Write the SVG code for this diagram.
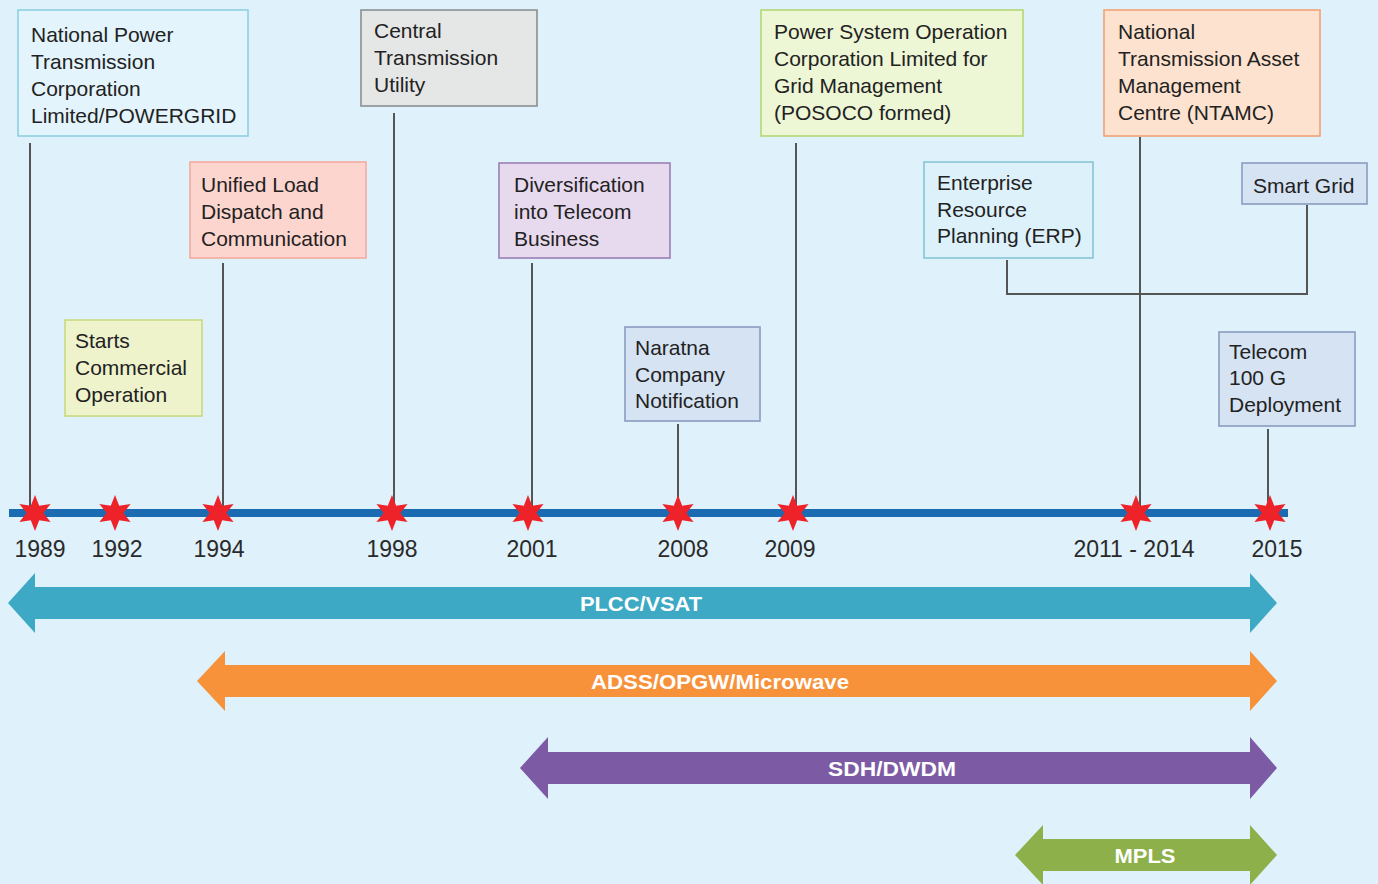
<svg xmlns="http://www.w3.org/2000/svg" width="1378" height="884" viewBox="0 0 1378 884">
<defs>
<style>
.bx{stroke-width:1.6}
.t{font-family:"Liberation Sans",Arial,sans-serif;font-size:21px;fill:#222}
.yr{font-family:"Liberation Sans",Arial,sans-serif;font-size:23px;fill:#2a2a2a;text-anchor:middle}
.lbl{font-family:"Liberation Sans",Arial,sans-serif;font-size:21px;font-weight:bold;fill:#fff;text-anchor:middle}
.cn{stroke:#555;stroke-width:2;fill:none}
.blue{fill:#d6e3f3;stroke:#8a9cc0}
</style>
<path id="star" d="M0,-18 L4.2,-7.2 L15.6,-9 L8.4,0 L15.6,9 L4.2,7.2 L0,18 L-4.2,7.2 L-15.6,9 L-8.4,0 L-15.6,-9 L-4.2,-7.2 Z" fill="#ee2229"/>
</defs>
<rect width="1378" height="884" fill="#dff1fb"/>

<g id="connectors">
<line class="cn" x1="30" y1="143" x2="30" y2="506"/>
<line class="cn" x1="223" y1="263" x2="223" y2="506"/>
<line class="cn" x1="394" y1="113" x2="394" y2="506"/>
<line class="cn" x1="532" y1="263" x2="532" y2="506"/>
<line class="cn" x1="678" y1="424" x2="678" y2="506"/>
<line class="cn" x1="796" y1="143" x2="796" y2="506"/>
<line class="cn" x1="1140" y1="137" x2="1140" y2="506"/>
<line class="cn" x1="1268" y1="429" x2="1268" y2="506"/>
<polyline class="cn" points="1007,260 1007,294 1307,294 1307,205"/>
</g>

<g id="timeline">
<rect x="9" y="509" width="1279" height="8" fill="#1b6bb3"/>
<use href="#star" x="35" y="513"/>
<use href="#star" x="115" y="513"/>
<use href="#star" x="218" y="513"/>
<use href="#star" x="392" y="513"/>
<use href="#star" x="528" y="513"/>
<use href="#star" x="678" y="513"/>
<use href="#star" x="793" y="513"/>
<use href="#star" x="1136" y="513"/>
<use href="#star" x="1270" y="513"/>
<text class="yr" x="40" y="557">1989</text>
<text class="yr" x="117" y="557">1992</text>
<text class="yr" x="219" y="557">1994</text>
<text class="yr" x="392" y="557">1998</text>
<text class="yr" x="532" y="557">2001</text>
<text class="yr" x="683" y="557">2008</text>
<text class="yr" x="790" y="557">2009</text>
<text class="yr" x="1134" y="557">2011 - 2014</text>
<text class="yr" x="1277" y="557">2015</text>
</g>

<g id="n-nptc">
<rect class="bx" x="18" y="10" width="230" height="126" fill="#e3f4fc" stroke="#8dd0e0"/>
<text class="t" x="31" y="42">National Power</text>
<text class="t" x="31" y="69">Transmission</text>
<text class="t" x="31" y="96">Corporation</text>
<text class="t" x="31" y="123">Limited/POWERGRID</text>
</g>
<g id="n-ctu">
<rect class="bx" x="361" y="10" width="176" height="96" fill="#e5e6e6" stroke="#8a8f94"/>
<text class="t" x="374" y="38">Central</text>
<text class="t" x="374" y="65">Transmission</text>
<text class="t" x="374" y="92">Utility</text>
</g>
<g id="n-uldc">
<rect class="bx" x="190" y="162" width="176" height="96" fill="#fdd5cf" stroke="#f5aaa0"/>
<text class="t" x="201" y="192">Unified Load</text>
<text class="t" x="201" y="219">Dispatch and</text>
<text class="t" x="201" y="246">Communication</text>
</g>
<g id="n-starts">
<rect class="bx" x="65" y="320" width="137" height="96" fill="#eef3cc" stroke="#c6da80"/>
<text class="t" x="75" y="348">Starts</text>
<text class="t" x="75" y="375">Commercial</text>
<text class="t" x="75" y="402">Operation</text>
</g>
<g id="n-divers">
<rect class="bx" x="499" y="163" width="171" height="95" fill="#e7d9ee" stroke="#9b7fb3"/>
<text class="t" x="514" y="192">Diversification</text>
<text class="t" x="514" y="219">into Telecom</text>
<text class="t" x="514" y="246">Business</text>
</g>
<g id="n-naratna">
<rect class="bx blue" x="625" y="327" width="135" height="94"/>
<text class="t" x="635" y="355">Naratna</text>
<text class="t" x="635" y="382">Company</text>
<text class="t" x="635" y="408">Notification</text>
</g>
<g id="n-posoco">
<rect class="bx" x="761" y="10" width="262" height="126" fill="#edf6d5" stroke="#b5d873"/>
<text class="t" x="774" y="39">Power System Operation</text>
<text class="t" x="774" y="66">Corporation Limited for</text>
<text class="t" x="774" y="93">Grid Management</text>
<text class="t" x="774" y="120">(POSOCO formed)</text>
</g>
<g id="n-ntamc">
<rect class="bx" x="1104" y="10" width="216" height="126" fill="#fde3cf" stroke="#f2a273"/>
<text class="t" x="1118" y="39">National</text>
<text class="t" x="1118" y="66">Transmission Asset</text>
<text class="t" x="1118" y="93">Management</text>
<text class="t" x="1118" y="120">Centre (NTAMC)</text>
</g>
<g id="n-erp">
<rect class="bx" x="924" y="162" width="169" height="96" fill="#ddf1fa" stroke="#86c6d6"/>
<text class="t" x="937" y="190">Enterprise</text>
<text class="t" x="937" y="217">Resource</text>
<text class="t" x="937" y="243">Planning (ERP)</text>
</g>
<g id="n-smartgrid">
<rect class="bx blue" x="1242" y="163" width="125" height="41"/>
<text class="t" x="1253" y="193">Smart Grid</text>
</g>
<g id="n-telecom">
<rect class="bx blue" x="1219" y="332" width="136" height="94"/>
<text class="t" x="1229" y="359">Telecom</text>
<text class="t" x="1229" y="385">100 G</text>
<text class="t" x="1229" y="412">Deployment</text>
</g>

<g id="bands">
<polygon fill="#3ea9c4" points="8,603 35,573 35,587 1250,587 1250,573 1277,603 1250,633 1250,619 35,619 35,633"/>
<text class="lbl" x="641" y="611" textLength="122" lengthAdjust="spacingAndGlyphs">PLCC/VSAT</text>
<polygon fill="#f7923a" points="197,681 225,651 225,665 1250,665 1250,651 1277,681 1250,711 1250,697 225,697 225,711"/>
<text class="lbl" x="720" y="689" textLength="258" lengthAdjust="spacingAndGlyphs">ADSS/OPGW/Microwave</text>
<polygon fill="#7c5ba4" points="520,768 548,737 548,752 1250,752 1250,737 1277,768 1250,799 1250,784 548,784 548,799"/>
<text class="lbl" x="892" y="776" textLength="128" lengthAdjust="spacingAndGlyphs">SDH/DWDM</text>
<polygon fill="#8db04a" points="1015,855 1043,825 1043,839 1250,839 1250,825 1277,855 1250,885 1250,871 1043,871 1043,885"/>
<text class="lbl" x="1145" y="863" textLength="61" lengthAdjust="spacingAndGlyphs">MPLS</text>
</g>
</svg>
